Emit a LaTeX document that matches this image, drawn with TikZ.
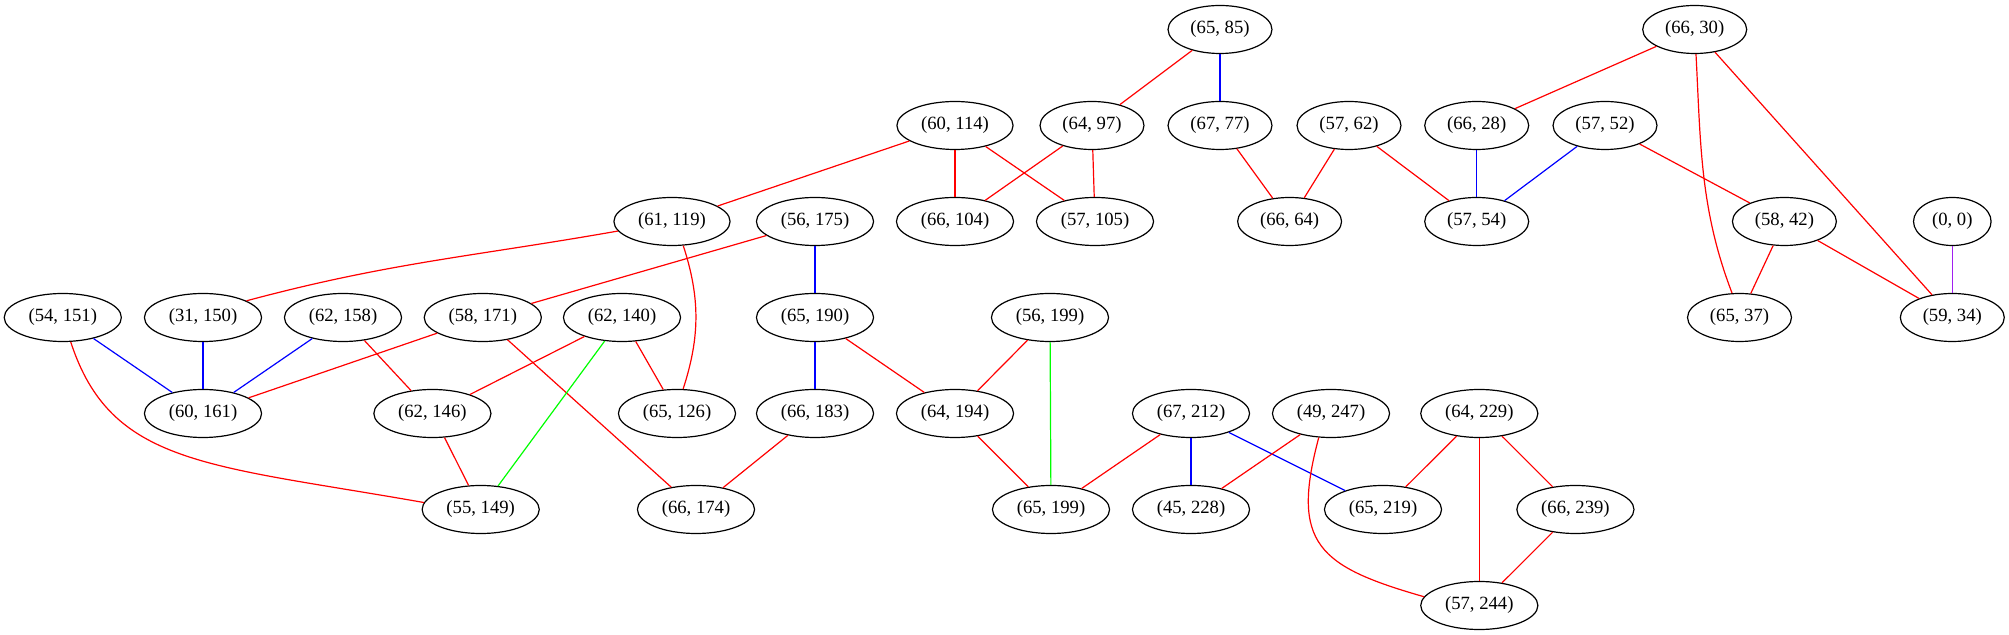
\documentclass[tikz,border=0pt]{standalone}
\usepackage{fontspec}
\setmainfont{Liberation Serif}
\usetikzlibrary{shapes.geometric}
\definecolor{gvpurple}{HTML}{A020F0}

\begin{document}
\begin{tikzpicture}[x=0.75pt,y=0.75pt,line width=0.9pt,
        pair/.style={ellipse,draw,minimum height=36pt,inner xsep=5.4pt,inner ysep=0pt,
                     font=\fontsize{14pt}{16pt}\selectfont}]

            %\draw [help lines] (0,0) grid (2009,635);
            \useasboundingbox (0,0) rectangle (2009,635);

            \path   (1220,605.5)   node (n6585)  [pair] {(65, 85)}
                    (1694.7,605.5) node (n6630)  [pair] {(66, 30)}
                    (955,509.5)    node (n60114) [pair] {(60, 114)}
                    (1092,509.5)   node (n6497)  [pair] {(64, 97)}
                    (1220,509.5)   node (n6777)  [pair] {(67, 77)}
                    (1349,509.5)   node (n5762)  [pair] {(57, 62)}
                    (1476.7,509.5) node (n6628)  [pair] {(66, 28)}
                    (1605,509.5)   node (n5752)  [pair] {(57, 52)}
                    (672,413.5)    node (n61119) [pair] {(61, 119)}
                    (815,413.5)    node (n56175) [pair] {(56, 175)}
                    (955,413.5)    node (n66104) [pair] {(66, 104)}
                    (1095,413.5)   node (n57105) [pair] {(57, 105)}
                    (1289.6,413.5) node (n6664)  [pair] {(66, 64)}
                    (1476.7,413.5) node (n5754)  [pair] {(57, 54)}
                    (1784.4,413.5) node (n5842)  [pair] {(58, 42)}
                    (1952.3,413.5) node (n00)    [pair] {(0, 0)}
                    (62.8,317.5)   node (n54151) [pair] {(54, 151)}
                    (203,317.5)    node (n31150) [pair] {(31, 150)}
                    (343,317.5)    node (n62158) [pair] {(62, 158)}
                    (482.8,317.5)  node (n58171) [pair] {(58, 171)}
                    (622,317.5)    node (n62140) [pair] {(62, 140)}
                    (815,317.5)    node (n65190) [pair] {(65, 190)}
                    (1050,317.5)   node (n56199) [pair] {(56, 199)}
                    (1739.5,317.5) node (n6537)  [pair] {(65, 37)}
                    (1952.3,317.5) node (n5934)  [pair] {(59, 34)}
                    (203,221.5)    node (n60161) [pair] {(60, 161)}
                    (432.4,221.5)  node (n62146) [pair] {(62, 146)}
                    (677,221.5)    node (n65126) [pair] {(65, 126)}
                    (815,221.5)    node (n66183) [pair] {(66, 183)}
                    (955,221.5)    node (n64194) [pair] {(64, 194)}
                    (1191,221.5)   node (n67212) [pair] {(67, 212)}
                    (1331,221.5)   node (n49247) [pair] {(49, 247)}
                    (1479.3,221.5) node (n64229) [pair] {(64, 229)}
                    (480.7,125.5)  node (n55149) [pair] {(55, 149)}
                    (696,125.5)    node (n66174) [pair] {(66, 174)}
                    (1051,125.5)   node (n65199) [pair] {(65, 199)}
                    (1191,125.5)   node (n45228) [pair] {(45, 228)}
                    (1383,125.5)   node (n65219) [pair] {(65, 219)}
                    (1575.4,125.5) node (n66239) [pair] {(66, 239)}
                    (1479.3,29.5)  node (n57244) [pair] {(57, 244)};

            % top part
            \draw[red]  (node cs: name =n6585 ) -- (node cs:name =n6497);
            \draw[blue] (node cs: name =n6585 ) -- (node cs:name =n6777);
            \draw[red]  (node cs: name =n6630 ) -- (node cs:name =n6628);
            \draw[red]  (node cs: name =n6630, angle=-87) .. controls +(-87:90) and +(111:90) .. (node cs: name =n6537, angle=107);
            \draw[red]  (node cs: name =n6630 ) -- (node cs:name =n5934);
            \draw[red]  (node cs: name =n60114 ) -- (node cs:name =n61119);
            \draw[red]  (node cs: name =n60114 ) -- (node cs:name =n66104);
            \draw[red]  (node cs: name =n60114 ) -- (node cs:name =n57105);
            \draw[red]  (node cs: name =n6497 ) -- (node cs:name =n66104);
            \draw[red]  (node cs: name =n6497 ) -- (node cs:name =n57105);
            \draw[red]  (node cs: name =n6777 ) -- (node cs:name =n6664);
            \draw[red]  (node cs: name =n5762 ) -- (node cs:name =n6664);
            \draw[red]  (node cs: name =n5762 ) -- (node cs:name =n5754);
            \draw[blue] (node cs: name =n6628 ) -- (node cs:name =n5754);
            \draw[blue] (node cs: name =n5752 ) -- (node cs:name =n5754);
            \draw[red]  (node cs: name =n5752 ) -- (node cs:name =n5842);
            \draw[red]  (node cs: name =n5842 ) -- (node cs:name =n6537);
            \draw[red]  (node cs: name =n5842 ) -- (node cs:name =n5934);
            \draw[gvpurple] (node cs: name =n00 ) -- (node cs:name =n5934);

            % middle part
            \draw[red]  (node cs: name =n61119, angle=190) .. controls +(190:148) and +(15:148) .. (node cs: name =n31150, angle=21);
            \draw[red]  (node cs: name =n61119, angle=-65) .. controls +(-72:55) and +(72:55) .. (node cs: name =n65126, angle=76);
            \draw[red]  (node cs: name =n56175 ) -- (node cs:name =n58171);
            \draw[blue] (node cs: name =n56175 ) -- (node cs:name =n65190);
            \draw[blue] (node cs: name =n54151 ) -- (node cs:name =n60161);
            \draw[red]  (node cs: name =n54151, angle=-72) .. controls +(-72:130) and +(170:220) .. (node cs: name =n55149, angle=173);
            \draw[blue] (node cs: name =n31150 ) -- (node cs:name =n60161);
            \draw[blue] (node cs: name =n62158 ) -- (node cs:name =n60161);
            \draw[red]  (node cs: name =n62158 ) -- (node cs:name =n62146);
            \draw[red]  (node cs: name =n58171 ) -- (node cs:name =n60161);
            \draw[red]  (node cs: name =n58171 ) -- (node cs:name =n66174);
            \draw[red]  (node cs: name =n62140 ) -- (node cs:name =n62146);
            \draw[green] (node cs: name =n62140 ) -- (node cs:name =n55149);
            \draw[red]  (node cs: name =n62140 ) -- (node cs:name =n65126);
            \draw[blue] (node cs: name =n65190 ) -- (node cs:name =n66183);
            \draw[red]  (node cs: name =n65190 ) -- (node cs:name =n64194);
            \draw[red]  (node cs: name =n56199 ) -- (node cs:name =n64194);
            \draw[green] (node cs: name =n56199 ) -- (node cs:name =n65199);

            % bottom part
            \draw[red]  (node cs: name =n62146 ) -- (node cs:name =n55149);
            \draw[red]  (node cs: name =n66183 ) -- (node cs:name =n66174);
            \draw[red]  (node cs: name =n64194 ) -- (node cs:name =n65199);
            \draw[red]  (node cs: name =n67212 ) -- (node cs:name =n65199);
            \draw[blue] (node cs: name =n67212 ) -- (node cs:name =n45228);
            \draw[blue] (node cs: name =n67212 ) -- (node cs:name =n65219);
            \draw[red]  (node cs: name =n49247 ) -- (node cs:name =n45228);
            \draw[red]  (node cs: name =n49247, angle=-117) .. controls +(-105:110) and +(164:110) .. (node cs: name =n57244, angle=171);
            \draw[red]  (node cs: name =n64229 ) -- (node cs:name =n65219);
            \draw[red]  (node cs: name =n64229 ) -- (node cs:name =n57244);
            \draw[red]  (node cs: name =n64229 ) -- (node cs:name =n66239);
            \draw[red]  (node cs: name =n66239 ) -- (node cs:name =n57244);

        \end{tikzpicture}
\end{document}
